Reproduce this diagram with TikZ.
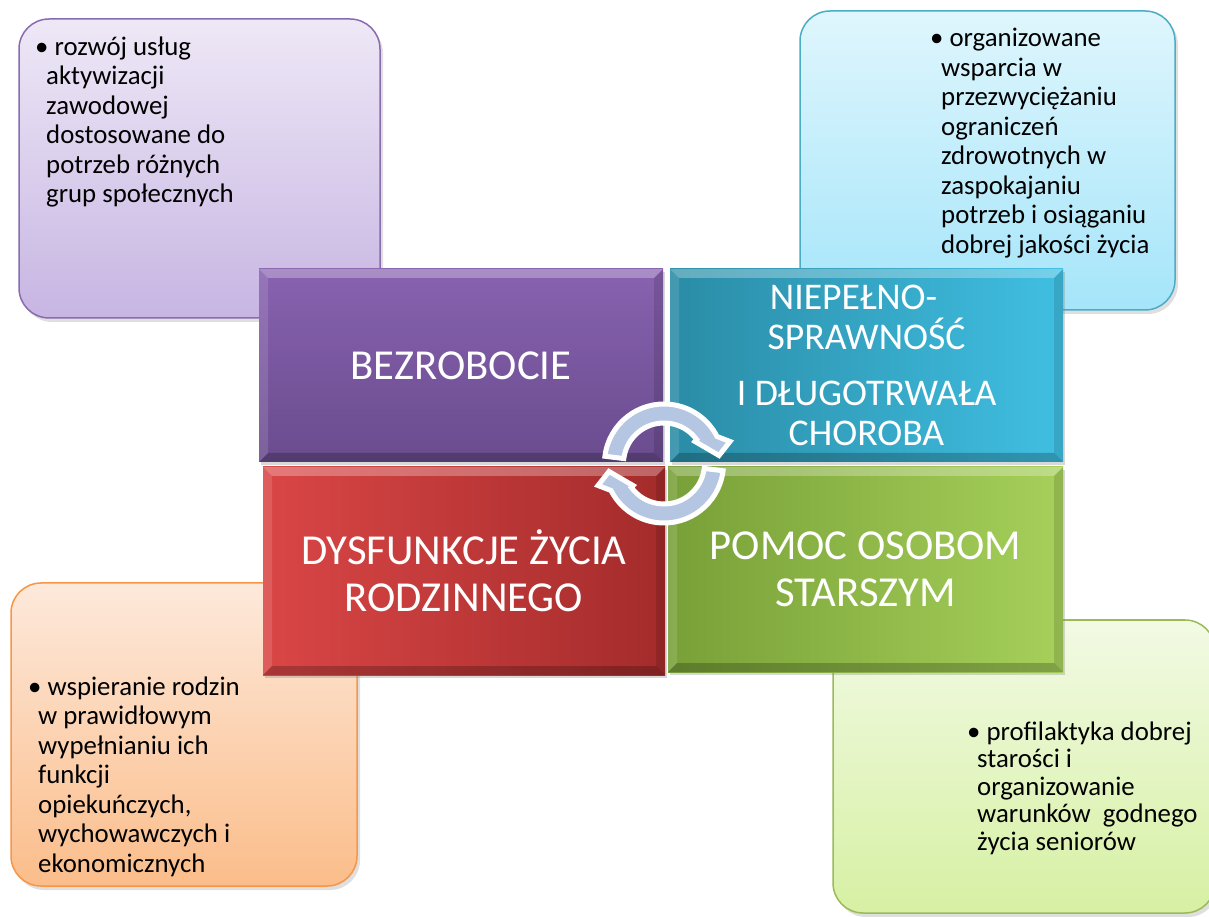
\documentclass[tikz,border=0pt]{standalone}
\usepackage{fontspec}
\setmainfont{Carlito}
\usetikzlibrary{shadows}
\definecolor{pTop}{HTML}{EEE8F6}
\definecolor{pBot}{HTML}{C7B5E3}
\definecolor{pLine}{HTML}{8B6BB0}
\definecolor{cTop}{HTML}{DFF6FD}
\definecolor{cBot}{HTML}{A5E5FA}
\definecolor{cLine}{HTML}{4BACC6}
\definecolor{oTop}{HTML}{FDE9DB}
\definecolor{oBot}{HTML}{FBBD8A}
\definecolor{oLine}{HTML}{F79646}
\definecolor{gTop}{HTML}{F2FAE4}
\definecolor{gBot}{HTML}{D6F0A3}
\definecolor{gLine}{HTML}{9BBB59}
\definecolor{bezTop}{HTML}{8862B0}
\definecolor{bezBot}{HTML}{6A4C8E}
\definecolor{tealL}{HTML}{2A8CA6}
\definecolor{tealR}{HTML}{40BFE2}
\definecolor{redL}{HTML}{DA4646}
\definecolor{redR}{HTML}{A42B2B}
\definecolor{grnL}{HTML}{78A038}
\definecolor{grnR}{HTML}{A6D05A}
\definecolor{cycFill}{HTML}{B4C6E2}
\newcommand\bevelbox[1]{%
  \fill[white,opacity=0.28] (#1.north west) -- (#1.north east) -- ([xshift=-9pt,yshift=-9pt]#1.north east) -- ([xshift=9pt,yshift=-9pt]#1.north west) -- cycle;
  \fill[white,opacity=0.12] (#1.north west) -- ([xshift=9pt,yshift=-9pt]#1.north west) -- ([xshift=9pt,yshift=9pt]#1.south west) -- (#1.south west) -- cycle;
  \fill[black,opacity=0.12] (#1.north east) -- ([xshift=-9pt,yshift=-9pt]#1.north east) -- ([xshift=-9pt,yshift=9pt]#1.south east) -- (#1.south east) -- cycle;
  \fill[black,opacity=0.22] (#1.south west) -- ([xshift=9pt,yshift=9pt]#1.south west) -- ([xshift=-9pt,yshift=9pt]#1.south east) -- (#1.south east) -- cycle;}
\begin{document}
\begin{tikzpicture}[x=1pt,y=1pt,
  callout/.style={rectangle, rounded corners=30pt, line width=1.5pt, inner sep=0pt, outer sep=0pt,
    drop shadow={opacity=0.25, shadow xshift=3pt, shadow yshift=-4pt}},
  calltext/.style={inner sep=0pt, align=left, anchor=base west, text=black,
    font=\fontsize{26.8}{29.5}\selectfont},
  mainbox/.style={rectangle, inner sep=0pt, outer sep=0pt, text=white, align=center,
    font=\fontsize{42.7}{47}\selectfont,
    drop shadow={opacity=0.3, shadow xshift=2pt, shadow yshift=-3pt}},
  cycarrow/.style={fill=cycFill, draw=white, line width=5pt, line join=miter}]
\useasboundingbox (0,0) rectangle (1209,916);
\fill[white] (0,0) rectangle (1209,916);

% callouts
\node[callout, top color=pTop, bottom color=pBot, draw=pLine,
  minimum width=361, minimum height=299] (cP) at (199.5,747.5) {};
\node[callout, top color=cTop, bottom color=cBot, draw=cLine,
  minimum width=375, minimum height=299] (cC) at (987.5,755.5) {};
\node[callout, top color=oTop, bottom color=oBot, draw=oLine,
  minimum width=346, minimum height=303] (cO) at (184,181.5) {};
\node[callout, top color=gTop, bottom color=gBot, draw=gLine,
  minimum width=382, minimum height=293] (cG) at (1024,149.5) {};

% texts (base anchor = baseline of the last line)
\node[calltext] (tP) at (35,713) {\textbullet\ rozwój usług\\
\hspace*{11pt}aktywizacji\\
\hspace*{11pt}zawodowej\\
\hspace*{11pt}dostosowane do\\
\hspace*{11pt}potrzeb różnych\\
\hspace*{11pt}grup społecznych};
\node[calltext] (tC) at (930,662.5) {\textbullet\ organizowane\\
\hspace*{11pt}wsparcia w\\
\hspace*{11pt}przezwyciężaniu\\
\hspace*{11pt}ograniczeń\\
\hspace*{11pt}zdrowotnych w\\
\hspace*{11pt}zaspokajaniu\\
\hspace*{11pt}potrzeb i osiąganiu\\
\hspace*{11pt}dobrej jakości życia};
\node[calltext] (tO) at (28,44) {\textbullet\ wspieranie rodzin\\
\hspace*{10pt}w prawidłowym\\
\hspace*{10pt}wypełnianiu ich\\
\hspace*{10pt}funkcji\\
\hspace*{10pt}opiekuńczych,\\
\hspace*{10pt}wychowawczych i\\
\hspace*{10pt}ekonomicznych};
\node[calltext, font=\fontsize{26.8}{27.5}\selectfont] (tG) at (967,66) {\textbullet\ profilaktyka dobrej\\
\hspace*{10pt}starości i\\
\hspace*{10pt}organizowanie\\
\hspace*{10pt}warunków\ \ godnego\\
\hspace*{10pt}życia seniorów};

% main boxes
\node[mainbox, top color=bezTop, bottom color=bezBot,
  minimum width=404, minimum height=193] (bez) at (461,550.5) {BEZROBOCIE};
\node[mainbox, left color=tealL, right color=tealR,
  minimum width=393, minimum height=193,
  font=\fontsize{37.7}{40}\selectfont] (nie) at (866.5,550.5)
  {NIEPEŁNO-\hspace*{26pt}\\SPRAWNOŚĆ\\[16pt]I DŁUGOTRWAŁA\\CHOROBA};
\node[mainbox, left color=redL, right color=redR,
  minimum width=402, minimum height=208] (dys) at (464,345)
  {DYSFUNKCJE ŻYCIA\\RODZINNEGO};
\node[mainbox, left color=grnL, right color=grnR,
  minimum width=395, minimum height=205] (pom) at (865.5,346.5)
  {POMOC OSOBOM\\STARSZYM};
\bevelbox{bez}
\bevelbox{nie}
\bevelbox{dys}
\bevelbox{pom}

% cycle arrows
\coordinate (cyc) at (664,452.5);
\begin{scope}[shift={(cyc)}]
  \path[cycarrow] (173:59.5) arc[start angle=173, end angle=27, radius=59.5]
    -- (66,22) -- (55,8) -- (31,22) -- (36:40.5)
    arc[start angle=36, end angle=173, radius=40.5] -- cycle;
\end{scope}
\begin{scope}[shift={(cyc)}, rotate=180]
  \path[cycarrow] (173:59.5) arc[start angle=173, end angle=27, radius=59.5]
    -- (66,22) -- (55,8) -- (31,22) -- (36:40.5)
    arc[start angle=36, end angle=173, radius=40.5] -- cycle;
\end{scope}
\end{tikzpicture}
\end{document}
